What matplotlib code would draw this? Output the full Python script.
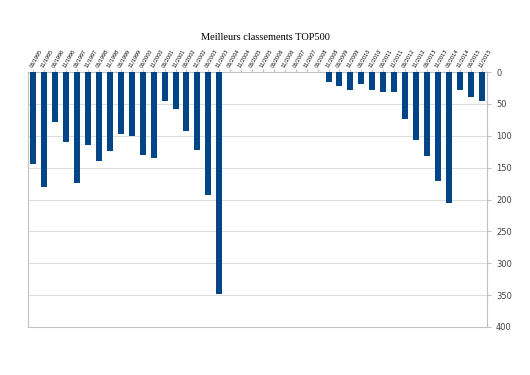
import numpy as np
import matplotlib.pyplot as plt

# Dates des listes TOP500
periodes = []
for annee in range(1995, 2016):
    periodes.append('06/%d' % annee)
    periodes.append('11/%d' % annee)

# Meilleur rang (NaN = absent du classement)
rangs = [144, 180, 78, 110, 174, 114, 140, 124, 97, 100,
         130, 135, 45, 58, 92, 122, 193, 348,
         np.nan, np.nan, np.nan, np.nan, np.nan, np.nan, np.nan, np.nan, np.nan,
         16, 22, 28, 19, 28, 31, 31, 74, 107, 132, 171, 205, 28, 39, 45]

gris = '#c0c0c0'

fig = plt.figure(figsize=(5.3, 3.75), dpi=100)
ax = fig.add_axes([28/530, 1 - 327/375, (487-28)/530, (327-72)/375])

x = np.arange(len(periodes))
ax.bar(x, rangs, width=0.55, color='#004586', zorder=3)

ax.set_ylim(400, 0)
ax.set_xlim(-0.5, len(periodes) - 0.5)
ax.set_yticks(np.arange(0, 401, 50))
ax.yaxis.tick_right()
ax.xaxis.tick_top()
ax.set_xticks(x)
ax.set_xticklabels(periodes, rotation=60, ha='left', va='bottom',
                   rotation_mode='anchor', fontsize=3.5)
ax.tick_params(axis='y', labelsize=6, colors='#444444', length=3, color=gris)
ax.tick_params(axis='x', length=2, color=gris, pad=1)
ax.grid(axis='y', color='#d6d6d6', linewidth=0.6, zorder=0)
for s in ax.spines.values():
    s.set_color(gris)
    s.set_linewidth(0.8)

fig.text(0.5, 1 - 37/375, 'Meilleurs classements TOP500', ha='center', va='center',
         family='Liberation Serif', fontsize=7.5)

fig.savefig('out.png', dpi=100)
